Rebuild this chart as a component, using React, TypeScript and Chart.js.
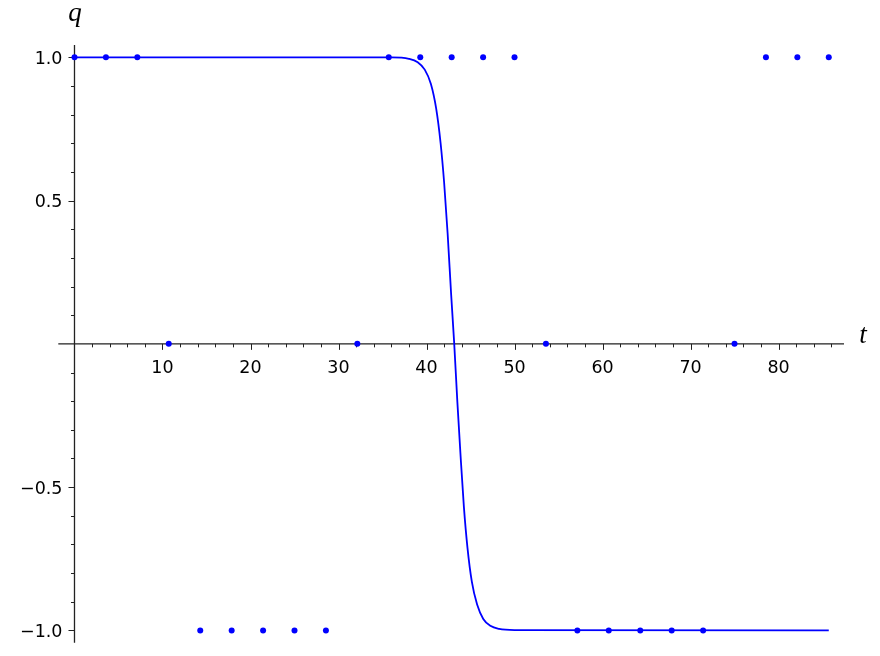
import React, { useEffect, useRef } from "react";
import { Chart, registerables } from "chart.js";

Chart.register(...registerables);

// Smooth curve q(t)
const curveT = [0, 36, 38, 39, 39.8, 40.5, 41.1, 41.6, 42.0, 42.4, 42.8, 43.15, 43.5, 43.85, 44.25, 44.65, 45.15, 45.75, 46.45, 47.25, 48.25, 50, 85.71];
const curveQ = [1, 1, 0.995, 0.983, 0.957, 0.907, 0.821, 0.701, 0.564, 0.385, 0.172, 0, -0.2, -0.38, -0.57, -0.71, -0.83, -0.91, -0.96, -0.984, -0.995, -0.999, -1];

// Discrete points
const pointT = [0, 3.57, 7.14, 10.71, 14.29, 17.86, 21.43, 25, 28.57, 32.14, 35.71, 39.29, 42.86, 46.43, 50, 53.57, 57.14, 60.71, 64.29, 67.86, 71.43, 75, 78.57, 82.14, 85.71];
const pointQ = [1, 1, 1, 0, -1, -1, -1, -1, -1, 0, 1, 1, 1, 1, 1, 0, -1, -1, -1, -1, -1, 0, 1, 1, 1];

// Ticks
const xMajorTicks = [10, 20, 30, 40, 50, 60, 70, 80];
const xTickLabels = ["10", "20", "30", "40", "50", "60", "70", "80"];
const xMinorTicks = [2, 4, 6, 8, 12, 14, 16, 18, 22, 24, 26, 28, 32, 34, 36, 38, 42, 44, 46, 48, 52, 54, 56, 58, 62, 64, 66, 68, 72, 74, 76, 78, 82, 84, 86];
const yMajorTicks = [-1, -0.5, 0.5, 1];
const yTickLabels = ["\u22121.0", "\u22120.5", "0.5", "1.0"];
const yMinorTicks = [-0.9, -0.8, -0.7, -0.6, -0.4, -0.3, -0.2, -0.1, 0.1, 0.2, 0.3, 0.4, 0.6, 0.7, 0.8, 0.9];

const X_MIN = -1.84;
const X_MAX = 87.44;
const Y_MIN = -1.043;
const Y_MAX = 1.043;

const axesPlugin = {
  id: "sageAxes",
  beforeDatasetsDraw(chart: any) {
    const ctx = chart.ctx;
    const xs = chart.scales.x;
    const ys = chart.scales.y;
    const ox = xs.getPixelForValue(0);
    const oy = ys.getPixelForValue(0);
    const area = chart.chartArea;
    ctx.save();
    ctx.strokeStyle = "#222";
    ctx.lineWidth = 1.3;
    ctx.beginPath();
    ctx.moveTo(area.left, oy);
    ctx.lineTo(area.right, oy);
    ctx.moveTo(ox, area.top);
    ctx.lineTo(ox, area.bottom);
    ctx.stroke();

    ctx.lineWidth = 1;
    ctx.beginPath();
    xMajorTicks.forEach((v) => {
      const px = Math.round(xs.getPixelForValue(v)) + 0.5;
      ctx.moveTo(px, oy);
      ctx.lineTo(px, oy + 6);
    });
    xMinorTicks.forEach((v) => {
      const px = Math.round(xs.getPixelForValue(v)) + 0.5;
      ctx.moveTo(px, oy);
      ctx.lineTo(px, oy + 3.5);
    });
    yMajorTicks.forEach((v) => {
      const py = Math.round(ys.getPixelForValue(v)) + 0.5;
      ctx.moveTo(ox, py);
      ctx.lineTo(ox - 6, py);
    });
    yMinorTicks.forEach((v) => {
      const py = Math.round(ys.getPixelForValue(v)) + 0.5;
      ctx.moveTo(ox, py);
      ctx.lineTo(ox - 3.5, py);
    });
    ctx.stroke();

    ctx.fillStyle = "#000";
    ctx.font = "17.5px 'DejaVu Sans'";
    ctx.textAlign = "center";
    ctx.textBaseline = "alphabetic";
    xMajorTicks.forEach((v, i) => {
      ctx.fillText(xTickLabels[i], xs.getPixelForValue(v), oy + 29);
    });
    ctx.textAlign = "right";
    yMajorTicks.forEach((v, i) => {
      ctx.fillText(yTickLabels[i], ox - 12, ys.getPixelForValue(v) + 6.4);
    });

    ctx.font = "italic 27px 'Liberation Serif'";
    ctx.textAlign = "center";
    ctx.fillText("q", ox + 0.5, 20.5);
    ctx.fillText("t", 863, 342.5);
    ctx.restore();
  },
};

export default function App() {
  const ref = useRef<HTMLCanvasElement | null>(null);
  useEffect(() => {
    if (!ref.current) return;
    const chart = new Chart(ref.current, {
      type: "scatter",
      data: {
        datasets: [
          {
            label: "curve",
            data: curveT.map((t, i) => ({ x: t, y: curveQ[i] })),
            showLine: true,
            borderColor: "#0000ff",
            borderWidth: 1.8,
            pointRadius: 0,
            cubicInterpolationMode: "monotone",
            fill: false,
            clip: false,
            order: 1,
          } as any,
          {
            label: "points",
            data: pointT.map((t, i) => ({ x: t, y: pointQ[i] })),
            showLine: false,
            backgroundColor: "#0000ff",
            borderColor: "#0000ff",
            borderWidth: 0,
            pointRadius: 3,
            clip: false,
            order: 0,
          } as any,
        ],
      },
      options: {
        animation: false,
        responsive: false,
        maintainAspectRatio: false,
        layout: { padding: { left: 58.3, right: 36, top: 45, bottom: 13.3 } },
        plugins: {
          legend: { display: false },
          tooltip: { enabled: false },
        },
        scales: {
          x: { type: "linear", min: X_MIN, max: X_MAX, display: false },
          y: { type: "linear", min: Y_MIN, max: Y_MAX, display: false },
        },
      },
      plugins: [axesPlugin],
    });
    return () => chart.destroy();
  }, []);
  return (
    <div style={{ position: "absolute", left: 0, top: 0, width: 880, height: 656, background: "#fff" }}>
      <canvas ref={ref} width={880} height={656} />
    </div>
  );
}
